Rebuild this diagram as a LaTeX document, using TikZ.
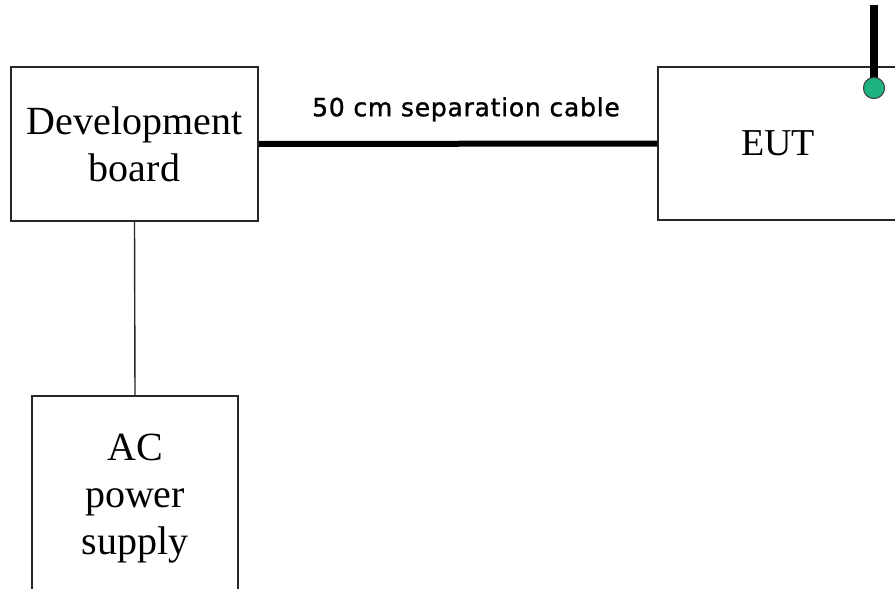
\documentclass[tikz,border=0pt]{standalone}
\usepackage{fontspec}
\setmainfont{Liberation Serif}
\newfontfamily\labelfont[LetterSpace=3,FakeBold=1.2]{DejaVu Sans}
\definecolor{dotgreen}{RGB}{29,178,128}
\begin{document}
\begin{tikzpicture}[x=1pt,y=-1pt,
  box/.style={draw=black!85,line width=1.7pt,rectangle,align=center,inner sep=0pt,
    font=\fontsize{40}{47}\selectfont},
  thickline/.style={line width=6pt,black},
  thinline/.style={line width=1.4pt,black!85},
  dotstyle/.style={circle,draw=black!75,line width=0.9pt,fill=dotgreen,minimum size=21pt,inner sep=0pt}]
\useasboundingbox (0,0) rectangle (895,589);
\fill[white] (0,0) rectangle (895,589);
\node[box,minimum width=247pt,minimum height=154pt] (dev) at (134.5,144) {Development\\board};
\node[box,minimum width=240pt,minimum height=153pt,font=\fontsize{38}{45}\selectfont] (eut) at (778,143.5) {EUT};
\node[box,minimum width=206pt,minimum height=206pt,anchor=north] (ac) at (135,395) {AC\\power\\supply};
\draw[thickline] (dev.east) -- (eut.west) node[midway,above=16pt,xshift=8pt,font=\labelfont\fontsize{25}{29}\selectfont] (lbl) {50 cm separation cable};
\draw[thinline] (dev.south) -- (ac.north);
\node[dotstyle] (dot) at (874,88) {};
\coordinate (tip) at (874,5);
\draw[line width=8pt,black] (dot.center) -- (tip);
\node[dotstyle] at (dot) {};
\end{tikzpicture}
\end{document}
